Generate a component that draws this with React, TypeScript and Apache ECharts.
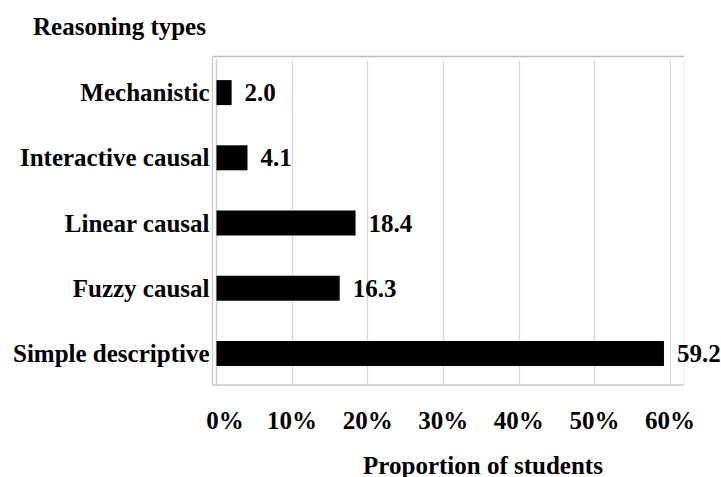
import React, { useEffect, useRef } from "react";
import * as echarts from "echarts";

const categories = ["Simple descriptive", "Fuzzy causal", "Linear causal", "Interactive causal", "Mechanistic"];
const values = [59.2, 16.3, 18.4, 4.1, 2.0];
const xTicks = [0, 10, 20, 30, 40, 50, 60];

const FONT = '"Liberation Serif", "Times New Roman", serif';

export default function App() {
  const ref = useRef<HTMLDivElement>(null);
  useEffect(() => {
    if (!ref.current) return;
    const chart = echarts.init(ref.current, undefined, { renderer: "svg" });
    chart.setOption({
      animation: false,
      backgroundColor: "#ffffff",
      textStyle: { fontFamily: FONT },
      grid: { left: 216.5, top: 60, width: 453.5, height: 326, containLabel: false },
      xAxis: {
        type: "value",
        min: xTicks[0],
        max: xTicks[xTicks.length - 1],
        interval: 10,
        axisLine: { show: false },
        axisTick: { show: false },
        splitLine: { show: true, lineStyle: { color: "#d9d9d9", width: 1.3 } },
        axisLabel: {
          formatter: (v: number) => (v === 0 ? "{z|0%}" : `${v}%`),
          fontFamily: FONT,
          fontSize: 25,
          fontWeight: "bold",
          color: "#000",
          margin: 22,
          rich: {
            z: {
              fontFamily: FONT,
              fontSize: 25,
              fontWeight: "bold",
              color: "#000",
              padding: [0, 0, 0, 17],
            },
          },
        },
      },
      yAxis: {
        type: "category",
        data: categories,
        axisLine: { show: true, lineStyle: { color: "#cfcfcf", width: 1.3 } },
        axisTick: { show: false },
        axisLabel: {
          fontFamily: FONT,
          fontSize: 25,
          fontWeight: "bold",
          color: "#000",
          margin: 7,
        },
      },
      series: [
        {
          type: "bar",
          data: values,
          barWidth: 25,
          itemStyle: { color: "#000000" },
          label: {
            show: true,
            position: "right",
            distance: 13,
            formatter: (p: any) => Number(p.value).toFixed(1),
            fontFamily: FONT,
            fontSize: 25,
            fontWeight: "bold",
            color: "#000",
          },
        },
      ],
      graphic: [
        { type: "line", shape: { x1: 212.5, y1: 56.5, x2: 684, y2: 56.5 }, style: { stroke: "#bdbdbd", lineWidth: 1.3 }, z: 0 },
        { type: "line", shape: { x1: 212.5, y1: 56.5, x2: 212.5, y2: 385 }, style: { stroke: "#c8c8c8", lineWidth: 1.3 }, z: 0 },
        { type: "line", shape: { x1: 212.5, y1: 385, x2: 684, y2: 385 }, style: { stroke: "#c8c8c8", lineWidth: 1.3 }, z: 0 },
        { type: "line", shape: { x1: 684, y1: 56.5, x2: 684, y2: 385 }, style: { stroke: "#ececec", lineWidth: 1 }, z: 0 },
        {
          type: "text",
          left: 33,
          top: 14,
          style: { text: "Reasoning types", font: `bold 25px ${FONT}`, fill: "#000" },
        },
        {
          type: "text",
          x: 483,
          y: 465,
          style: {
            text: "Proportion of students",
            font: `bold 25px ${FONT}`,
            fill: "#000",
            align: "center",
            verticalAlign: "middle",
          },
        },
      ],
    });
    return () => chart.dispose();
  }, []);
  return <div ref={ref} style={{ width: 721, height: 477, position: "fixed", left: 0, top: 0 }} />;
}
